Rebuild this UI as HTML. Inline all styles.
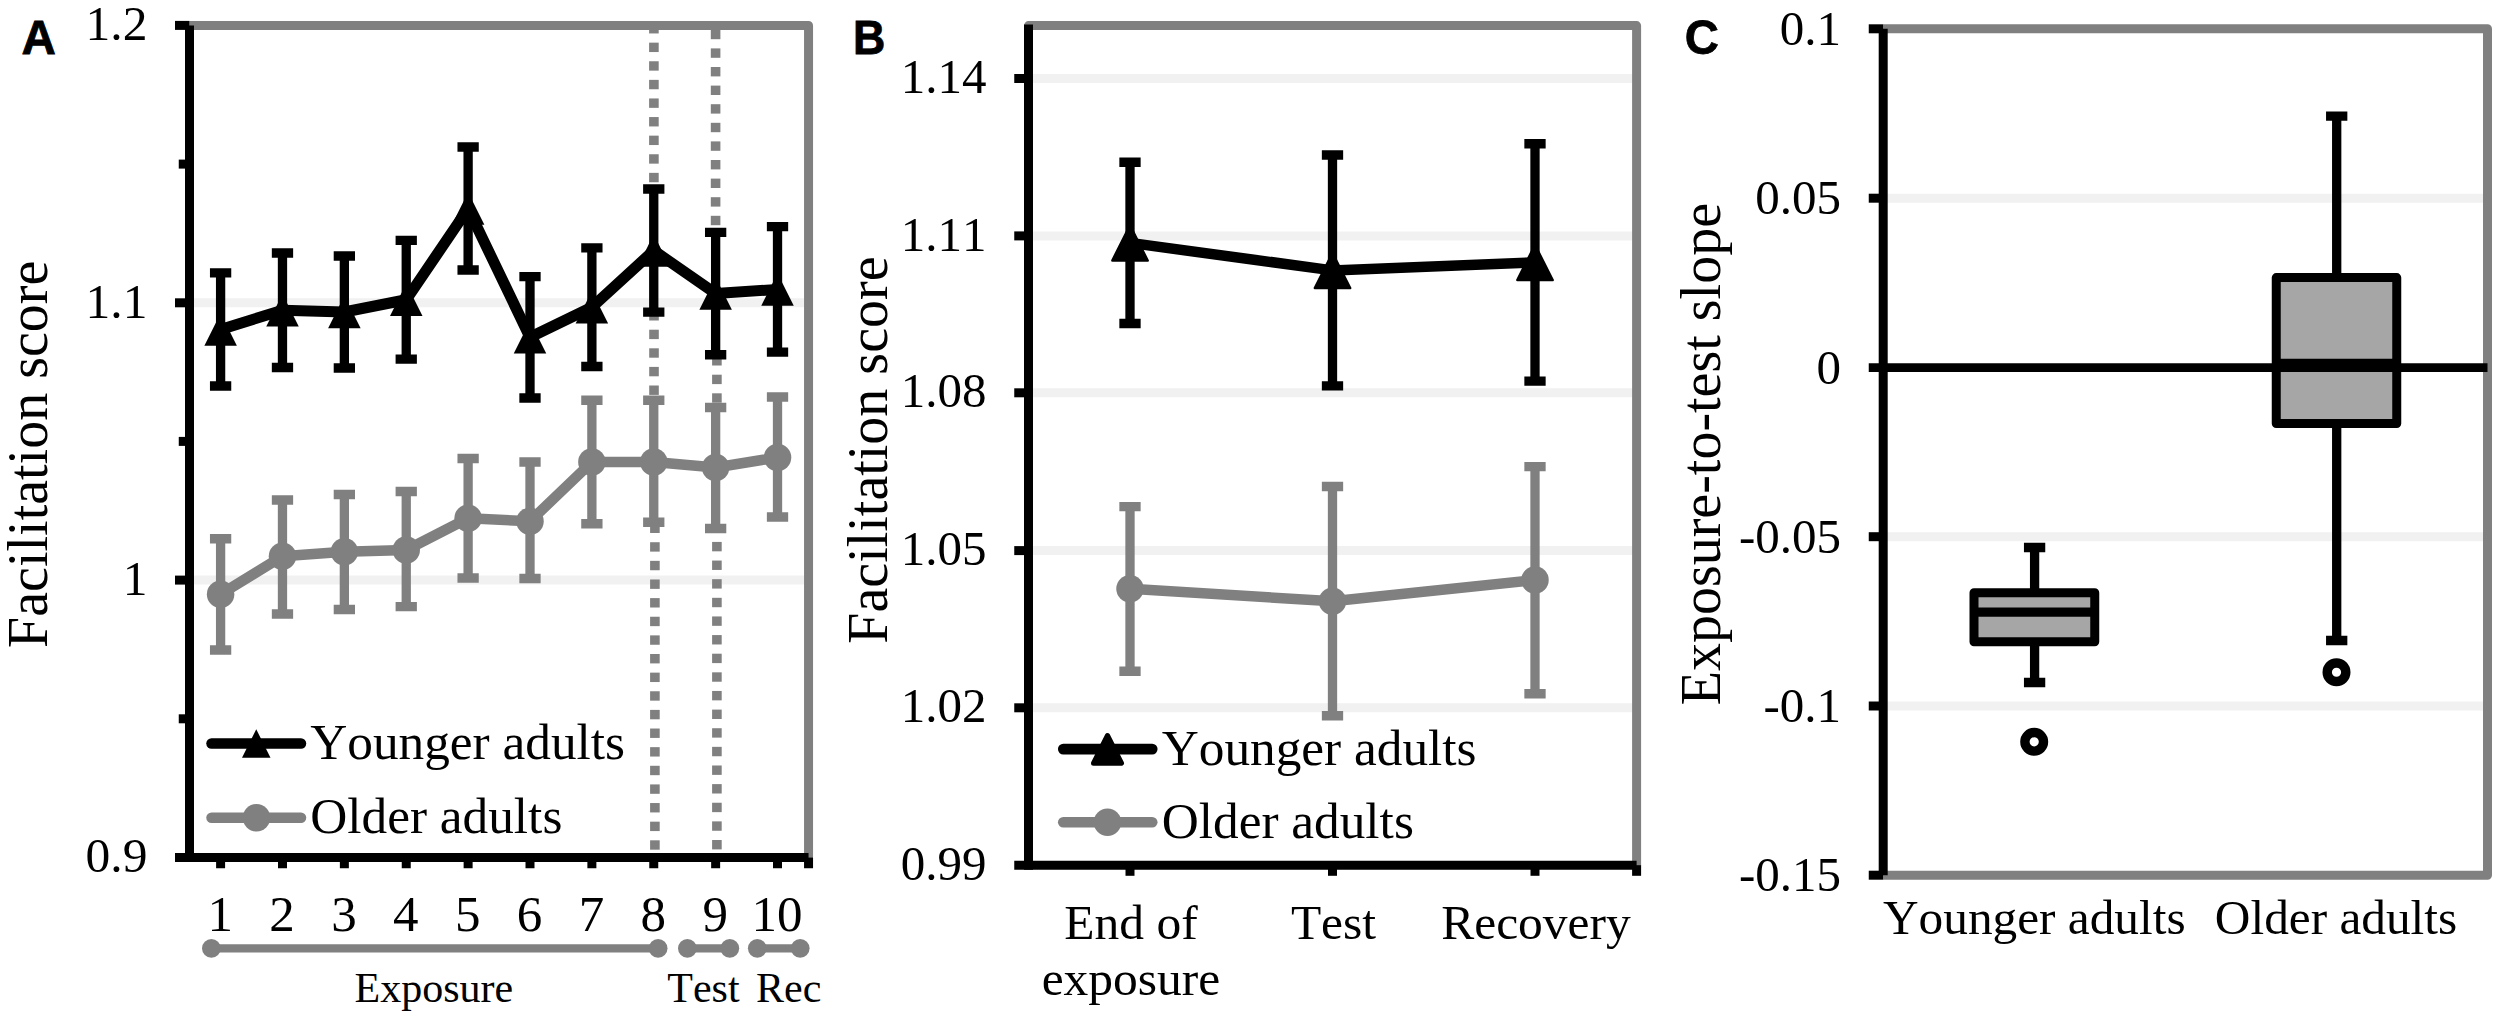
<!DOCTYPE html>
<html><head><meta charset="utf-8"><title>Figure</title>
<style>html,body{margin:0;padding:0;background:#fff}svg{display:block}text{font-kerning:none}</style></head>
<body><svg width="2500" height="1019" viewBox="0 0 2500 1019">
<rect width="2500" height="1019" fill="#fff"/>
<line x1="189.5" y1="302.8" x2="808.55" y2="302.8" stroke="#f1f1f1" stroke-width="9" stroke-linecap="butt" />
<line x1="189.5" y1="580.1" x2="808.55" y2="580.1" stroke="#f1f1f1" stroke-width="9" stroke-linecap="butt" />
<rect x="649.10" y="25.40" width="9.6" height="8.05" fill="#808080"/>
<rect x="649.10" y="42.65" width="9.6" height="9.40" fill="#808080"/>
<rect x="649.10" y="61.25" width="9.6" height="9.40" fill="#808080"/>
<rect x="649.10" y="79.85" width="9.6" height="9.40" fill="#808080"/>
<rect x="649.10" y="98.45" width="9.6" height="9.40" fill="#808080"/>
<rect x="649.10" y="117.05" width="9.6" height="9.40" fill="#808080"/>
<rect x="649.10" y="135.65" width="9.6" height="9.40" fill="#808080"/>
<rect x="649.10" y="154.25" width="9.6" height="9.40" fill="#808080"/>
<rect x="649.10" y="172.85" width="9.6" height="9.40" fill="#808080"/>
<rect x="649.20" y="315.00" width="9.6" height="5.50" fill="#808080"/>
<rect x="649.20" y="329.70" width="9.6" height="9.40" fill="#808080"/>
<rect x="649.20" y="348.30" width="9.6" height="9.40" fill="#808080"/>
<rect x="649.20" y="366.90" width="9.6" height="9.40" fill="#808080"/>
<rect x="649.20" y="385.50" width="9.6" height="9.40" fill="#808080"/>
<rect x="650.10" y="524.00" width="9.6" height="8.99" fill="#808080"/>
<rect x="650.10" y="542.22" width="9.6" height="9.40" fill="#808080"/>
<rect x="650.10" y="560.85" width="9.6" height="9.40" fill="#808080"/>
<rect x="650.10" y="579.48" width="9.6" height="9.40" fill="#808080"/>
<rect x="650.10" y="598.11" width="9.6" height="9.40" fill="#808080"/>
<rect x="650.10" y="616.74" width="9.6" height="9.40" fill="#808080"/>
<rect x="650.10" y="635.37" width="9.6" height="9.40" fill="#808080"/>
<rect x="650.10" y="654.00" width="9.6" height="9.40" fill="#808080"/>
<rect x="650.10" y="672.63" width="9.6" height="9.40" fill="#808080"/>
<rect x="650.10" y="691.26" width="9.6" height="9.40" fill="#808080"/>
<rect x="650.10" y="709.89" width="9.6" height="9.40" fill="#808080"/>
<rect x="650.10" y="728.52" width="9.6" height="9.40" fill="#808080"/>
<rect x="650.10" y="747.15" width="9.6" height="9.40" fill="#808080"/>
<rect x="650.10" y="765.78" width="9.6" height="9.40" fill="#808080"/>
<rect x="650.10" y="784.41" width="9.6" height="9.40" fill="#808080"/>
<rect x="650.10" y="803.04" width="9.6" height="9.40" fill="#808080"/>
<rect x="650.10" y="821.67" width="9.6" height="9.40" fill="#808080"/>
<rect x="650.10" y="840.30" width="9.6" height="9.40" fill="#808080"/>
<rect x="710.80" y="29.80" width="9.6" height="9.40" fill="#808080"/>
<rect x="710.80" y="48.40" width="9.6" height="9.40" fill="#808080"/>
<rect x="710.80" y="67.00" width="9.6" height="9.40" fill="#808080"/>
<rect x="710.80" y="85.60" width="9.6" height="9.40" fill="#808080"/>
<rect x="710.80" y="104.20" width="9.6" height="9.40" fill="#808080"/>
<rect x="710.80" y="122.80" width="9.6" height="9.40" fill="#808080"/>
<rect x="710.80" y="141.40" width="9.6" height="9.40" fill="#808080"/>
<rect x="710.80" y="160.00" width="9.6" height="9.40" fill="#808080"/>
<rect x="710.80" y="178.60" width="9.6" height="9.40" fill="#808080"/>
<rect x="710.80" y="197.20" width="9.6" height="9.40" fill="#808080"/>
<rect x="710.80" y="215.80" width="9.6" height="9.40" fill="#808080"/>
<rect x="712.10" y="357.00" width="9.6" height="8.50" fill="#808080"/>
<rect x="712.10" y="374.70" width="9.6" height="9.40" fill="#808080"/>
<rect x="712.10" y="393.30" width="9.6" height="9.40" fill="#808080"/>
<rect x="712.10" y="531.00" width="9.6" height="1.69" fill="#808080"/>
<rect x="712.10" y="541.92" width="9.6" height="9.40" fill="#808080"/>
<rect x="712.10" y="560.55" width="9.6" height="9.40" fill="#808080"/>
<rect x="712.10" y="579.18" width="9.6" height="9.40" fill="#808080"/>
<rect x="712.10" y="597.81" width="9.6" height="9.40" fill="#808080"/>
<rect x="712.10" y="616.44" width="9.6" height="9.40" fill="#808080"/>
<rect x="712.10" y="635.07" width="9.6" height="9.40" fill="#808080"/>
<rect x="712.10" y="653.70" width="9.6" height="9.40" fill="#808080"/>
<rect x="712.10" y="672.33" width="9.6" height="9.40" fill="#808080"/>
<rect x="712.10" y="690.96" width="9.6" height="9.40" fill="#808080"/>
<rect x="712.10" y="709.59" width="9.6" height="9.40" fill="#808080"/>
<rect x="712.10" y="728.22" width="9.6" height="9.40" fill="#808080"/>
<rect x="712.10" y="746.85" width="9.6" height="9.40" fill="#808080"/>
<rect x="712.10" y="765.48" width="9.6" height="9.40" fill="#808080"/>
<rect x="712.10" y="784.11" width="9.6" height="9.40" fill="#808080"/>
<rect x="712.10" y="802.74" width="9.6" height="9.40" fill="#808080"/>
<rect x="712.10" y="821.37" width="9.6" height="9.40" fill="#808080"/>
<rect x="712.10" y="840.00" width="9.6" height="9.40" fill="#808080"/>
<path d="M189.5 25.4H808.55V857.4" fill="none" stroke="#808080" stroke-width="9" stroke-linejoin="round"/>
<path d="M220.6 538.75V650M209.95 538.75H231.25M209.95 650H231.25" stroke="#808080" stroke-width="9.3" fill="none"/>
<path d="M282.48 500V614M271.83000000000004 500H293.13M271.83000000000004 614H293.13" stroke="#808080" stroke-width="9.3" fill="none"/>
<path d="M344.36 494.5V609.5M333.71000000000004 494.5H355.01M333.71000000000004 609.5H355.01" stroke="#808080" stroke-width="9.3" fill="none"/>
<path d="M406.24 491.5V606.6M395.59000000000003 491.5H416.89M395.59000000000003 606.6H416.89" stroke="#808080" stroke-width="9.3" fill="none"/>
<path d="M468.12 458.5V578M457.47 458.5H478.77M457.47 578H478.77" stroke="#808080" stroke-width="9.3" fill="none"/>
<path d="M530.0 462V578.5M519.35 462H540.65M519.35 578.5H540.65" stroke="#808080" stroke-width="9.3" fill="none"/>
<path d="M591.88 400.25V523.75M581.23 400.25H602.53M581.23 523.75H602.53" stroke="#808080" stroke-width="9.3" fill="none"/>
<path d="M653.76 400.25V522.25M643.11 400.25H664.41M643.11 522.25H664.41" stroke="#808080" stroke-width="9.3" fill="none"/>
<path d="M715.64 407.5V528.5M704.99 407.5H726.29M704.99 528.5H726.29" stroke="#808080" stroke-width="9.3" fill="none"/>
<path d="M777.5200000000001 397V517M766.8700000000001 397H788.1700000000001M766.8700000000001 517H788.1700000000001" stroke="#808080" stroke-width="9.3" fill="none"/>
<polyline points="220.60,594.25 282.48,556.25 344.36,551.75 406.24,550.00 468.12,518.25 530.00,521.25 591.88,462.00 653.76,462.00 715.64,467.50 777.52,457.50" fill="none" stroke="#808080" stroke-width="10.5" stroke-linejoin="round"/>
<circle cx="220.60" cy="594.25" r="13.75" fill="#808080"/>
<circle cx="282.48" cy="556.25" r="13.75" fill="#808080"/>
<circle cx="344.36" cy="551.75" r="13.75" fill="#808080"/>
<circle cx="406.24" cy="550" r="13.75" fill="#808080"/>
<circle cx="468.12" cy="518.25" r="13.75" fill="#808080"/>
<circle cx="530.00" cy="521.25" r="13.75" fill="#808080"/>
<circle cx="591.88" cy="462" r="13.75" fill="#808080"/>
<circle cx="653.76" cy="462" r="13.75" fill="#808080"/>
<circle cx="715.64" cy="467.5" r="13.75" fill="#808080"/>
<circle cx="777.52" cy="457.5" r="13.75" fill="#808080"/>
<path d="M220.6 272.8V386M209.95 272.8H231.25M209.95 386H231.25" stroke="#000" stroke-width="9.3" fill="none"/>
<path d="M282.48 253V367.5M271.83000000000004 253H293.13M271.83000000000004 367.5H293.13" stroke="#000" stroke-width="9.3" fill="none"/>
<path d="M344.36 256V368M333.71000000000004 256H355.01M333.71000000000004 368H355.01" stroke="#000" stroke-width="9.3" fill="none"/>
<path d="M406.24 240.3V359.2M395.59000000000003 240.3H416.89M395.59000000000003 359.2H416.89" stroke="#000" stroke-width="9.3" fill="none"/>
<path d="M468.12 147V270M457.47 147H478.77M457.47 270H478.77" stroke="#000" stroke-width="9.3" fill="none"/>
<path d="M530.0 276.6V398M519.35 276.6H540.65M519.35 398H540.65" stroke="#000" stroke-width="9.3" fill="none"/>
<path d="M591.88 247.9V366.5M581.23 247.9H602.53M581.23 366.5H602.53" stroke="#000" stroke-width="9.3" fill="none"/>
<path d="M653.76 189V312.2M643.11 189H664.41M643.11 312.2H664.41" stroke="#000" stroke-width="9.3" fill="none"/>
<path d="M715.64 232.4V354.75M704.99 232.4H726.29M704.99 354.75H726.29" stroke="#000" stroke-width="9.3" fill="none"/>
<path d="M777.5200000000001 226.6V352.2M766.8700000000001 226.6H788.1700000000001M766.8700000000001 352.2H788.1700000000001" stroke="#000" stroke-width="9.3" fill="none"/>
<polyline points="220.60,329.40 282.48,310.25 344.36,312.00 406.24,299.75 468.12,208.50 530.00,337.30 591.88,307.20 653.76,250.60 715.64,293.57 777.52,289.40" fill="none" stroke="#000" stroke-width="11" stroke-linejoin="round"/>
<path d="M220.6 313.15L236.85 345.65L204.35 345.65Z" fill="#000"/>
<path d="M282.48 294.0L298.73 326.5L266.23 326.5Z" fill="#000"/>
<path d="M344.36 295.75L360.61 328.25L328.11 328.25Z" fill="#000"/>
<path d="M406.24 283.5L422.49 316.0L389.99 316.0Z" fill="#000"/>
<path d="M468.12 192.25L484.37 224.75L451.87 224.75Z" fill="#000"/>
<path d="M530.0 321.05L546.25 353.55L513.75 353.55Z" fill="#000"/>
<path d="M591.88 290.95L608.13 323.45L575.63 323.45Z" fill="#000"/>
<path d="M653.76 234.35L670.01 266.85L637.51 266.85Z" fill="#000"/>
<path d="M715.64 277.325L731.89 309.825L699.39 309.825Z" fill="#000"/>
<path d="M777.5200000000001 273.15L793.7700000000001 305.65L761.2700000000001 305.65Z" fill="#000"/>
<line x1="189.5" y1="25.4" x2="189.5" y2="861.9" stroke="#000" stroke-width="9" stroke-linecap="butt" />
<line x1="175" y1="857.4" x2="808.55" y2="857.4" stroke="#000" stroke-width="9" stroke-linecap="butt" />
<line x1="175" y1="25.4" x2="189.5" y2="25.4" stroke="#000" stroke-width="9" stroke-linecap="butt" />
<line x1="175" y1="302.8" x2="189.5" y2="302.8" stroke="#000" stroke-width="9" stroke-linecap="butt" />
<line x1="175" y1="580.1" x2="189.5" y2="580.1" stroke="#000" stroke-width="9" stroke-linecap="butt" />
<line x1="178.75" y1="164.1" x2="189.5" y2="164.1" stroke="#000" stroke-width="9" stroke-linecap="butt" />
<line x1="178.75" y1="441.4" x2="189.5" y2="441.4" stroke="#000" stroke-width="9" stroke-linecap="butt" />
<line x1="178.75" y1="718.8" x2="189.5" y2="718.8" stroke="#000" stroke-width="9" stroke-linecap="butt" />
<line x1="220.6" y1="857.4" x2="220.6" y2="868.25" stroke="#000" stroke-width="9" stroke-linecap="butt" />
<line x1="282.48" y1="857.4" x2="282.48" y2="868.25" stroke="#000" stroke-width="9" stroke-linecap="butt" />
<line x1="344.36" y1="857.4" x2="344.36" y2="868.25" stroke="#000" stroke-width="9" stroke-linecap="butt" />
<line x1="406.24" y1="857.4" x2="406.24" y2="868.25" stroke="#000" stroke-width="9" stroke-linecap="butt" />
<line x1="468.12" y1="857.4" x2="468.12" y2="868.25" stroke="#000" stroke-width="9" stroke-linecap="butt" />
<line x1="530.0" y1="857.4" x2="530.0" y2="868.25" stroke="#000" stroke-width="9" stroke-linecap="butt" />
<line x1="591.88" y1="857.4" x2="591.88" y2="868.25" stroke="#000" stroke-width="9" stroke-linecap="butt" />
<line x1="653.76" y1="857.4" x2="653.76" y2="868.25" stroke="#000" stroke-width="9" stroke-linecap="butt" />
<line x1="715.64" y1="857.4" x2="715.64" y2="868.25" stroke="#000" stroke-width="9" stroke-linecap="butt" />
<line x1="777.5200000000001" y1="857.4" x2="777.5200000000001" y2="868.25" stroke="#000" stroke-width="9" stroke-linecap="butt" />
<line x1="808.55" y1="857.4" x2="808.55" y2="868.25" stroke="#000" stroke-width="9" stroke-linecap="butt" />
<line x1="211.5" y1="743.5" x2="301" y2="743.5" stroke="#000" stroke-width="10.5" stroke-linecap="round" />
<path d="M256.25 729.15L270.5 757.65L242.0 757.65Z" fill="#000"/>
<line x1="211.5" y1="817.75" x2="301" y2="817.75" stroke="#808080" stroke-width="10.5" stroke-linecap="round" />
<circle cx="256.5" cy="817.75" r="13.75" fill="#808080"/>
<text x="310.2" y="759.2" font-size="51.3" text-anchor="start" font-family='"Liberation Serif","Times New Roman",serif' id="a_leg1">Younger adults</text>
<text x="310.2" y="833.2" font-size="51.3" text-anchor="start" font-family='"Liberation Serif","Times New Roman",serif' id="a_leg2">Older adults</text>
<text x="147.4" y="40.45" font-size="49.5" text-anchor="end" font-family='"Liberation Serif","Times New Roman",serif' >1.2</text>
<text x="147.4" y="317.85" font-size="49.5" text-anchor="end" font-family='"Liberation Serif","Times New Roman",serif' >1.1</text>
<text x="147.4" y="595.15" font-size="49.5" text-anchor="end" font-family='"Liberation Serif","Times New Roman",serif' >1</text>
<text x="147.4" y="872.4499999999999" font-size="49.5" text-anchor="end" font-family='"Liberation Serif","Times New Roman",serif' >0.9</text>
<text x="220.2" y="930.75" font-size="51" text-anchor="middle" font-family='"Liberation Serif","Times New Roman",serif' >1</text>
<text x="282.08000000000004" y="930.75" font-size="51" text-anchor="middle" font-family='"Liberation Serif","Times New Roman",serif' >2</text>
<text x="343.96000000000004" y="930.75" font-size="51" text-anchor="middle" font-family='"Liberation Serif","Times New Roman",serif' >3</text>
<text x="405.84000000000003" y="930.75" font-size="51" text-anchor="middle" font-family='"Liberation Serif","Times New Roman",serif' >4</text>
<text x="467.72" y="930.75" font-size="51" text-anchor="middle" font-family='"Liberation Serif","Times New Roman",serif' >5</text>
<text x="529.6" y="930.75" font-size="51" text-anchor="middle" font-family='"Liberation Serif","Times New Roman",serif' >6</text>
<text x="591.48" y="930.75" font-size="51" text-anchor="middle" font-family='"Liberation Serif","Times New Roman",serif' >7</text>
<text x="653.36" y="930.75" font-size="51" text-anchor="middle" font-family='"Liberation Serif","Times New Roman",serif' >8</text>
<text x="715.24" y="930.75" font-size="51" text-anchor="middle" font-family='"Liberation Serif","Times New Roman",serif' >9</text>
<text x="777.1200000000001" y="930.75" font-size="51" text-anchor="middle" font-family='"Liberation Serif","Times New Roman",serif' >10</text>
<text transform="translate(46.6,647.9) rotate(-90)" font-size="56" font-family='"Liberation Serif",serif' id="a_title">Facilitation score</text>
<text transform="translate(21.4,53.8) scale(1.0,1)" font-size="47.6" stroke="#000" stroke-width="0.8" font-weight="bold" font-family="Liberation Sans,Arial,sans-serif">A</text>
<line x1="211.4" y1="948.3" x2="658.1" y2="948.3" stroke="#808080" stroke-width="8.3" stroke-linecap="butt" />
<circle cx="211.4" cy="948.3" r="9.4" fill="#808080"/>
<circle cx="658.1" cy="948.3" r="9.4" fill="#808080"/>
<line x1="687.4" y1="948.3" x2="729.8" y2="948.3" stroke="#808080" stroke-width="8.3" stroke-linecap="butt" />
<circle cx="687.4" cy="948.3" r="9.4" fill="#808080"/>
<circle cx="729.8" cy="948.3" r="9.4" fill="#808080"/>
<line x1="757.3" y1="948.3" x2="800.2" y2="948.3" stroke="#808080" stroke-width="8.3" stroke-linecap="butt" />
<circle cx="757.3" cy="948.3" r="9.4" fill="#808080"/>
<circle cx="800.2" cy="948.3" r="9.4" fill="#808080"/>
<text x="354.5" y="1002.2" font-size="42" text-anchor="start" font-family='"Liberation Serif","Times New Roman",serif' id="a_exp">Exposure</text>
<text x="667.3" y="1002.2" font-size="42" text-anchor="start" font-family='"Liberation Serif","Times New Roman",serif' >Test</text>
<text x="756" y="1002.2" font-size="42" text-anchor="start" font-family='"Liberation Serif","Times New Roman",serif' >Rec</text>
<line x1="1028.5" y1="78.5" x2="1636.6" y2="78.5" stroke="#f1f1f1" stroke-width="9" stroke-linecap="butt" />
<line x1="1028.5" y1="235.9" x2="1636.6" y2="235.9" stroke="#f1f1f1" stroke-width="9" stroke-linecap="butt" />
<line x1="1028.5" y1="392.8" x2="1636.6" y2="392.8" stroke="#f1f1f1" stroke-width="9" stroke-linecap="butt" />
<line x1="1028.5" y1="550.6" x2="1636.6" y2="550.6" stroke="#f1f1f1" stroke-width="9" stroke-linecap="butt" />
<line x1="1028.5" y1="707.8" x2="1636.6" y2="707.8" stroke="#f1f1f1" stroke-width="9" stroke-linecap="butt" />
<path d="M1028.5 25.6H1636.6V865.2" fill="none" stroke="#808080" stroke-width="9" stroke-linejoin="round" stroke-linecap="round"/>
<path d="M1130 506.7V671.25M1119.35 506.7H1140.65M1119.35 671.25H1140.65" stroke="#808080" stroke-width="9.3" fill="none"/>
<path d="M1332.5 486.5V715.75M1321.85 486.5H1343.15M1321.85 715.75H1343.15" stroke="#808080" stroke-width="9.3" fill="none"/>
<path d="M1535 466.6V693.75M1524.35 466.6H1545.65M1524.35 693.75H1545.65" stroke="#808080" stroke-width="9.3" fill="none"/>
<polyline points="1130,588.75 1332.5,601.25 1535,580" fill="none" stroke="#808080" stroke-width="10.5" stroke-linejoin="round"/>
<circle cx="1130" cy="588.75" r="13.75" fill="#808080"/>
<circle cx="1332.5" cy="601.25" r="13.75" fill="#808080"/>
<circle cx="1535" cy="580" r="13.75" fill="#808080"/>
<path d="M1130 162.25V323.5M1119.35 162.25H1140.65M1119.35 323.5H1140.65" stroke="#000" stroke-width="9.3" fill="none"/>
<path d="M1332.5 155V385.9M1321.85 155H1343.15M1321.85 385.9H1343.15" stroke="#000" stroke-width="9.3" fill="none"/>
<path d="M1535 143.75V381.1M1524.35 143.75H1545.65M1524.35 381.1H1545.65" stroke="#000" stroke-width="9.3" fill="none"/>
<polyline points="1130,242.9 1332.5,270.4 1535,262.4" fill="none" stroke="#000" stroke-width="10.5" stroke-linejoin="round"/>
<path d="M1130 225.70000000000002L1147.6 260.5H1112.4Z" fill="#000" stroke="#000" stroke-width="2.6" stroke-linejoin="round"/>
<path d="M1332.5 253.2L1350.1 288.0H1314.9Z" fill="#000" stroke="#000" stroke-width="2.6" stroke-linejoin="round"/>
<path d="M1535 245.2L1552.6 280.0H1517.4Z" fill="#000" stroke="#000" stroke-width="2.6" stroke-linejoin="round"/>
<line x1="1028.5" y1="24.6" x2="1028.5" y2="869.7" stroke="#000" stroke-width="9" stroke-linecap="butt" />
<line x1="1014.25" y1="865.2" x2="1636.6" y2="865.2" stroke="#000" stroke-width="9" stroke-linecap="butt" />
<line x1="1014.25" y1="78.5" x2="1028.5" y2="78.5" stroke="#000" stroke-width="9" stroke-linecap="butt" />
<line x1="1014.25" y1="235.9" x2="1028.5" y2="235.9" stroke="#000" stroke-width="9" stroke-linecap="butt" />
<line x1="1014.25" y1="392.8" x2="1028.5" y2="392.8" stroke="#000" stroke-width="9" stroke-linecap="butt" />
<line x1="1014.25" y1="550.6" x2="1028.5" y2="550.6" stroke="#000" stroke-width="9" stroke-linecap="butt" />
<line x1="1014.25" y1="707.8" x2="1028.5" y2="707.8" stroke="#000" stroke-width="9" stroke-linecap="butt" />
<line x1="1130" y1="865.2" x2="1130" y2="875.8" stroke="#000" stroke-width="9" stroke-linecap="butt" />
<line x1="1332.5" y1="865.2" x2="1332.5" y2="875.8" stroke="#000" stroke-width="9" stroke-linecap="butt" />
<line x1="1535" y1="865.2" x2="1535" y2="875.8" stroke="#000" stroke-width="9" stroke-linecap="butt" />
<line x1="1636.6" y1="865.2" x2="1636.6" y2="875.8" stroke="#000" stroke-width="9" stroke-linecap="butt" />
<line x1="1063.3" y1="749.1" x2="1152.2" y2="749.1" stroke="#000" stroke-width="10.7" stroke-linecap="round" />
<path d="M1107.5 735.5L1121.5 763.2H1093.5Z" fill="#000" stroke="#000" stroke-width="5" stroke-linejoin="round"/>
<line x1="1063.3" y1="822.25" x2="1152.2" y2="822.25" stroke="#808080" stroke-width="10.7" stroke-linecap="round" />
<circle cx="1107.5" cy="822.25" r="13.75" fill="#808080"/>
<text x="1161.7" y="764.6" font-size="51.3" text-anchor="start" font-family='"Liberation Serif","Times New Roman",serif' id="b_leg1">Younger adults</text>
<text x="1161.7" y="837.9" font-size="51.3" text-anchor="start" font-family='"Liberation Serif","Times New Roman",serif' id="b_leg2">Older adults</text>
<text x="986.5" y="93.1" font-size="49" text-anchor="end" font-family='"Liberation Serif","Times New Roman",serif' >1.14</text>
<text x="986.5" y="250.5" font-size="49" text-anchor="end" font-family='"Liberation Serif","Times New Roman",serif' >1.11</text>
<text x="986.5" y="407.40000000000003" font-size="49" text-anchor="end" font-family='"Liberation Serif","Times New Roman",serif' >1.08</text>
<text x="986.5" y="565.2" font-size="49" text-anchor="end" font-family='"Liberation Serif","Times New Roman",serif' >1.05</text>
<text x="986.5" y="722.4" font-size="49" text-anchor="end" font-family='"Liberation Serif","Times New Roman",serif' >1.02</text>
<text x="986.5" y="879.8000000000001" font-size="49" text-anchor="end" font-family='"Liberation Serif","Times New Roman",serif' >0.99</text>
<text x="1131" y="938.5" font-size="49.5" text-anchor="middle" font-family='"Liberation Serif","Times New Roman",serif' id="b_x1">End of</text>
<text x="1131" y="994.8" font-size="49.5" text-anchor="middle" font-family='"Liberation Serif","Times New Roman",serif' id="b_x1b">exposure</text>
<text x="1333.5" y="938.5" font-size="49.5" text-anchor="middle" font-family='"Liberation Serif","Times New Roman",serif' id="b_x2">Test</text>
<text x="1536" y="938.5" font-size="49.5" text-anchor="middle" font-family='"Liberation Serif","Times New Roman",serif' id="b_x3">Recovery</text>
<text transform="translate(886.5,643.7) rotate(-90)" font-size="56" font-family='"Liberation Serif",serif' id="b_title">Facilitation score</text>
<text transform="translate(853.1,53.6) scale(0.948,1)" font-size="47.2" stroke="#000" stroke-width="0.8" font-weight="bold" font-family="Liberation Sans,Arial,sans-serif">B</text>
<line x1="1883.2" y1="198.2" x2="2487.5" y2="198.2" stroke="#f1f1f1" stroke-width="9" stroke-linecap="butt" />
<line x1="1883.2" y1="536.7" x2="2487.5" y2="536.7" stroke="#f1f1f1" stroke-width="9" stroke-linecap="butt" />
<line x1="1883.2" y1="706.0" x2="2487.5" y2="706.0" stroke="#f1f1f1" stroke-width="9" stroke-linecap="butt" />
<path d="M1883.2 28.8H2487.5V875.2H1883.2" fill="none" stroke="#808080" stroke-width="9" stroke-linejoin="round"/>
<line x1="1868.75" y1="367.6" x2="2487.5" y2="367.6" stroke="#000" stroke-width="8.8" stroke-linecap="butt" />
<path d="M2034.6 547.5V682.5M2023.9499999999998 547.5H2045.25M2023.9499999999998 682.5H2045.25" stroke="#000" stroke-width="9.3" fill="none"/>
<rect x="1974" y="592.75" width="120.75" height="49" fill="#a6a6a6" stroke="#000" stroke-width="9" stroke-linejoin="round"/>
<line x1="1974" y1="612.1" x2="2094.75" y2="612.1" stroke="#000" stroke-width="9.2" stroke-linecap="butt" />
<circle cx="2034.2" cy="741.8" r="9.3" fill="#fff" stroke="#000" stroke-width="9.4"/>
<path d="M2336.7 116.1V640.5M2326.0499999999997 116.1H2347.35M2326.0499999999997 640.5H2347.35" stroke="#000" stroke-width="9.3" fill="none"/>
<rect x="2276.25" y="277.6" width="120.5" height="145.9" fill="#a6a6a6" stroke="#000" stroke-width="9" stroke-linejoin="round"/>
<line x1="2276.25" y1="363.25" x2="2396.75" y2="363.25" stroke="#000" stroke-width="9.2" stroke-linecap="butt" />
<line x1="2272" y1="367.6" x2="2401" y2="367.6" stroke="#000" stroke-width="8.8" stroke-linecap="butt" />
<circle cx="2336.5" cy="672.25" r="9.3" fill="#fff" stroke="#000" stroke-width="9.4"/>
<line x1="1883.2" y1="28.8" x2="1883.2" y2="875.2" stroke="#000" stroke-width="9" stroke-linecap="butt" />
<line x1="1868.75" y1="28.8" x2="1883.2" y2="28.8" stroke="#000" stroke-width="9" stroke-linecap="butt" />
<line x1="1868.75" y1="198.2" x2="1883.2" y2="198.2" stroke="#000" stroke-width="9" stroke-linecap="butt" />
<line x1="1868.75" y1="536.7" x2="1883.2" y2="536.7" stroke="#000" stroke-width="9" stroke-linecap="butt" />
<line x1="1868.75" y1="706.0" x2="1883.2" y2="706.0" stroke="#000" stroke-width="9" stroke-linecap="butt" />
<line x1="1868.75" y1="875.2" x2="1883.2" y2="875.2" stroke="#000" stroke-width="9" stroke-linecap="butt" />
<text x="1841.1" y="45.0" font-size="49" text-anchor="end" font-family='"Liberation Serif","Times New Roman",serif' >0.1</text>
<text x="1841.1" y="214.39999999999998" font-size="49" text-anchor="end" font-family='"Liberation Serif","Times New Roman",serif' >0.05</text>
<text x="1841.1" y="383.7" font-size="49" text-anchor="end" font-family='"Liberation Serif","Times New Roman",serif' >0</text>
<text x="1841.1" y="552.9000000000001" font-size="49" text-anchor="end" font-family='"Liberation Serif","Times New Roman",serif' >-0.05</text>
<text x="1841.1" y="722.2" font-size="49" text-anchor="end" font-family='"Liberation Serif","Times New Roman",serif' >-0.1</text>
<text x="1841.1" y="891.4000000000001" font-size="49" text-anchor="end" font-family='"Liberation Serif","Times New Roman",serif' >-0.15</text>
<text x="2034.3" y="934.0" font-size="49.3" text-anchor="middle" font-family='"Liberation Serif","Times New Roman",serif' id="c_x1">Younger adults</text>
<text x="2336" y="934.0" font-size="49.3" text-anchor="middle" font-family='"Liberation Serif","Times New Roman",serif' id="c_x2">Older adults</text>
<text transform="translate(1720.3,705.3) rotate(-90)" font-size="56" font-family='"Liberation Serif",serif' id="c_title">Exposure-to-test slope</text>
<text transform="translate(1684.7,54.1) scale(0.965,1)" font-size="49" stroke="#000" stroke-width="0.8" font-weight="bold" font-family="Liberation Sans,Arial,sans-serif">C</text>
</svg></body></html>
